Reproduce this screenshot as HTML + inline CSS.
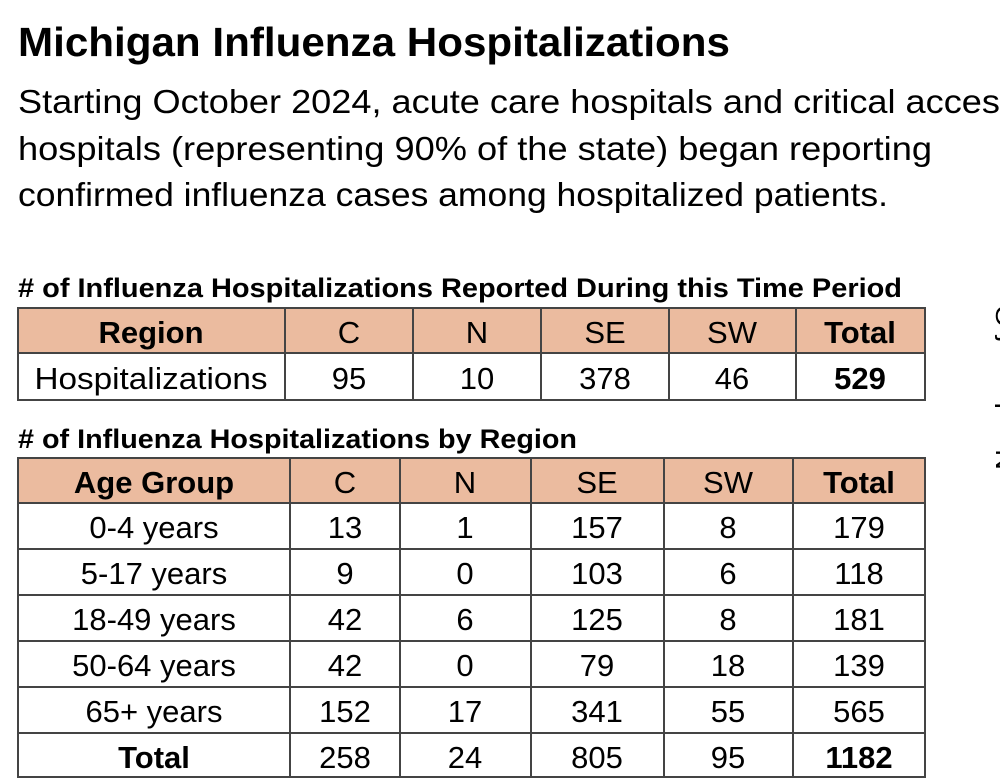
<!DOCTYPE html>
<html><head><meta charset="utf-8"><style>
html,body{margin:0;padding:0;background:#fff;width:1000px;height:778px;overflow:hidden}
svg text{font-family:"Liberation Sans Narrow","Liberation Sans",sans-serif;fill:#000}
</style></head><body>
<svg width="1000" height="778" viewBox="0 0 1000 778" xmlns="http://www.w3.org/2000/svg">
<text x="18" y="56" font-size="41" font-weight="bold" textLength="712" lengthAdjust="spacingAndGlyphs">Michigan Influenza Hospitalizations</text>
<text x="18" y="113" font-size="33" textLength="1000" lengthAdjust="spacingAndGlyphs">Starting October 2024, acute care hospitals and critical access</text>
<text x="18" y="160" font-size="33" textLength="914" lengthAdjust="spacingAndGlyphs">hospitals (representing 90% of the state) began reporting</text>
<text x="18" y="206" font-size="33" textLength="870" lengthAdjust="spacingAndGlyphs">confirmed influenza cases among hospitalized patients.</text>

<text x="18" y="297" font-size="27" font-weight="bold" textLength="884" lengthAdjust="spacingAndGlyphs"># of Influenza Hospitalizations Reported During this Time Period</text>
<text x="18" y="448" font-size="27" font-weight="bold" textLength="559" lengthAdjust="spacingAndGlyphs"># of Influenza Hospitalizations by Region</text>

<rect x="18" y="308" width="907" height="45" fill="#ebbb9f"/>
<g stroke="#444" stroke-width="2" fill="none">
<rect x="18" y="308" width="907" height="92"/>
<line x1="18" y1="353" x2="925" y2="353"/>
<line x1="285" y1="308" x2="285" y2="400"/>
<line x1="413" y1="308" x2="413" y2="400"/>
<line x1="541" y1="308" x2="541" y2="400"/>
<line x1="669" y1="308" x2="669" y2="400"/>
<line x1="796" y1="308" x2="796" y2="400"/>
</g>
<g font-size="31" text-anchor="middle">
<text x="151" y="343" font-weight="bold">Region</text>
<text x="349" y="343">C</text><text x="477" y="343">N</text><text x="605" y="343">SE</text><text x="732" y="343">SW</text>
<text x="860" y="343" font-weight="bold">Total</text>
<text x="151" y="389" textLength="233" lengthAdjust="spacingAndGlyphs">Hospitalizations</text>
<text x="349" y="389">95</text><text x="477" y="389">10</text><text x="605" y="389">378</text><text x="732" y="389">46</text>
<text x="860" y="389" font-weight="bold">529</text>
</g>

<rect x="18" y="458" width="907" height="45" fill="#ebbb9f"/>
<g stroke="#444" stroke-width="2" fill="none">
<rect x="18" y="458" width="907" height="319"/>
<line x1="18" y1="503" x2="925" y2="503"/>
<line x1="18" y1="549" x2="925" y2="549"/>
<line x1="18" y1="595" x2="925" y2="595"/>
<line x1="18" y1="641" x2="925" y2="641"/>
<line x1="18" y1="687" x2="925" y2="687"/>
<line x1="18" y1="733" x2="925" y2="733"/>
<line x1="290" y1="458" x2="290" y2="778"/>
<line x1="400" y1="458" x2="400" y2="778"/>
<line x1="531" y1="458" x2="531" y2="778"/>
<line x1="664" y1="458" x2="664" y2="778"/>
<line x1="793" y1="458" x2="793" y2="778"/>
</g>
<g font-size="31" text-anchor="middle">
<text x="154" y="493" font-weight="bold">Age Group</text>
<text x="345" y="493">C</text><text x="465" y="493">N</text><text x="597" y="493">SE</text><text x="728" y="493">SW</text>
<text x="859" y="493" font-weight="bold">Total</text>

<text x="154" y="538">0-4 years</text><text x="345" y="538">13</text><text x="465" y="538">1</text><text x="597" y="538">157</text><text x="728" y="538">8</text><text x="859" y="538">179</text>
<text x="154" y="584">5-17 years</text><text x="345" y="584">9</text><text x="465" y="584">0</text><text x="597" y="584">103</text><text x="728" y="584">6</text><text x="859" y="584">118</text>
<text x="154" y="630">18-49 years</text><text x="345" y="630">42</text><text x="465" y="630">6</text><text x="597" y="630">125</text><text x="728" y="630">8</text><text x="859" y="630">181</text>
<text x="154" y="676">50-64 years</text><text x="345" y="676">42</text><text x="465" y="676">0</text><text x="597" y="676">79</text><text x="728" y="676">18</text><text x="859" y="676">139</text>
<text x="154" y="722">65+ years</text><text x="345" y="722">152</text><text x="465" y="722">17</text><text x="597" y="722">341</text><text x="728" y="722">55</text><text x="859" y="722">565</text>
<text x="154" y="768" font-weight="bold">Total</text><text x="345" y="768">258</text><text x="465" y="768">24</text><text x="597" y="768">805</text><text x="728" y="768">95</text><text x="859" y="768" font-weight="bold">1182</text>
</g>

<text transform="translate(1014,470) rotate(-90)" font-size="26" textLength="225" lengthAdjust="spacingAndGlyphs" fill="#222">Number of Cases</text>
</svg>
</body></html>
